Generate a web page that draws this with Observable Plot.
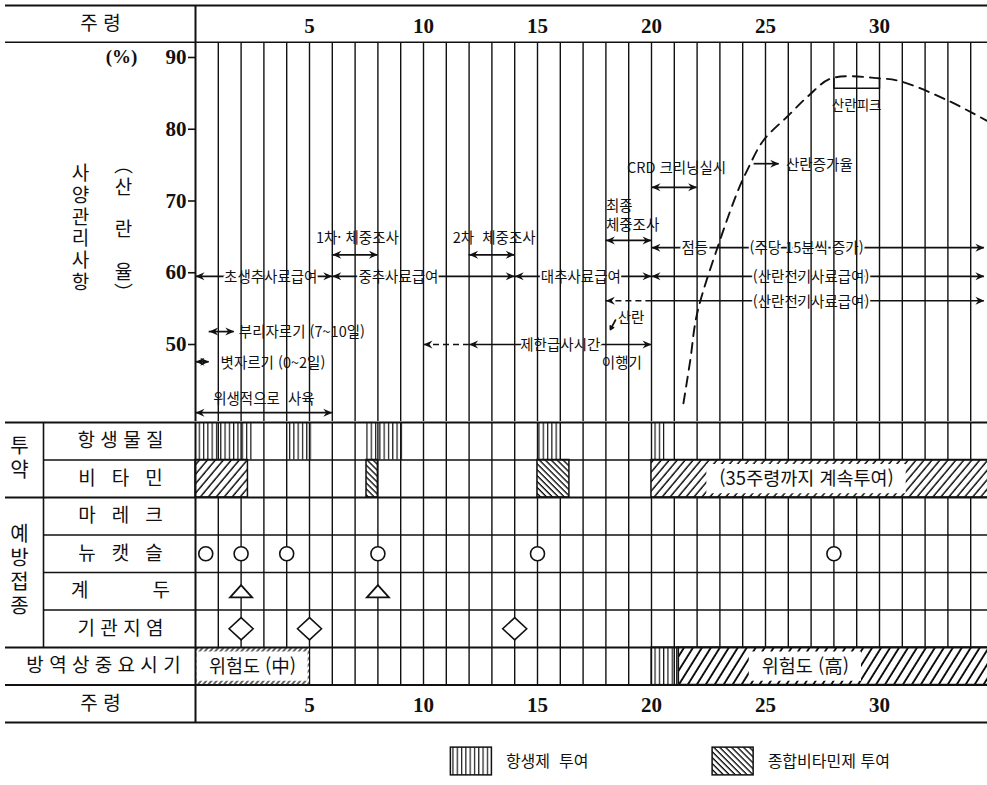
<!DOCTYPE html>
<html lang="ko">
<head>
<meta charset="utf-8">
<title>사양관리 일정표</title>
<script src="https://cdn.jsdelivr.net/npm/d3@7"></script>
<script src="https://cdn.jsdelivr.net/npm/@observablehq/plot@0.6"></script>
<style>
  html, body { margin: 0; padding: 0; background: #fff; }
  #chart { width: 987px; }
  #chart svg { display: block; }
</style>
</head>
<body>
<svg width="0" height="0" style="position:absolute" aria-hidden="true">
  <defs>
    <pattern id="pat-vertical" patternUnits="userSpaceOnUse" width="4.3" height="8">
      <line x1="1.5" y1="0" x2="1.5" y2="8" stroke="#000" stroke-width="1.1"/>
    </pattern>
    <pattern id="pat-fwd" patternUnits="userSpaceOnUse" width="6.1" height="10" patternTransform="rotate(40)">
      <rect width="6.1" height="10" fill="#fff"/>
      <line x1="1" y1="0" x2="1" y2="10" stroke="#000" stroke-width="1.4"/>
    </pattern>
    <pattern id="pat-bold" patternUnits="userSpaceOnUse" width="7.6" height="10" patternTransform="rotate(32)">
      <rect width="7.6" height="10" fill="#fff"/>
      <line x1="1" y1="0" x2="1" y2="10" stroke="#000" stroke-width="1.8"/>
    </pattern>
    <pattern id="pat-back" patternUnits="userSpaceOnUse" width="4.2" height="10" patternTransform="rotate(-45)">
      <rect width="4.2" height="10" fill="#fff"/>
      <line x1="1" y1="0" x2="1" y2="10" stroke="#000" stroke-width="1.3"/>
    </pattern>
    <pattern id="pat-edge" patternUnits="userSpaceOnUse" width="4" height="10" patternTransform="rotate(40)">
      <rect width="4" height="10" fill="#fff"/>
      <line x1="1" y1="0" x2="1" y2="10" stroke="#000" stroke-width="1.2"/>
    </pattern>
  </defs>
</svg>
<div id="chart"></div>
<script>
// ================= DATA =================
const weekTicks = [5, 10, 15, 20, 25, 30];
const rateTicks = [50, 60, 70, 80, 90];

// 산란율 (dashed curve)
const rateWeeks  = [21.4, 21.7, 22.0, 23.0, 23.8, 24.2, 24.9, 26.0, 26.9, 27.9, 30, 30.9, 33, 34.7];
const rateValues = [41.8, 47.8, 54.3, 64.5, 71.5, 74.3, 78.4, 81.9, 84.7, 87.1, 87.1, 86.7, 84.0, 81.2];
const layingPeak = {from: 28, to: 30, top: 87.1, base: 85.7, label: "산란피크", labelLevel: 83.3};

// 사양관리사항: arrow shafts (weeks, level in %)
const planLines = [
  {from: 0, to: 34.6, level: 59.5},
  {from: 6, to: 8, level: 62.5},
  {from: 12, to: 14, level: 62.5},
  {from: 18, to: 20, level: 64.5},
  {from: 20, to: 34.6, level: 63.5},
  {from: 18, to: 20, level: 56.1, dashed: true},
  {from: 20, to: 34.6, level: 56.1},
  {from: 10, to: 12, level: 50, dashed: true},
  {from: 12, to: 20, level: 50},
  {from: 0.6, to: 1.7, level: 51.8},
  {from: 0, to: 0.6, level: 47.6},
  {from: 0, to: 6, level: 40.5},
  {from: 20, to: 22, level: 71.9},
  {from: 24.5, to: 25.6, level: 75.2}
];
// arrow heads [week, level]
const headsLeft = [[0, 59.5], [6, 59.5], [14, 59.5], [20, 59.5], [6, 62.5], [12, 62.5], [18, 64.5],
  [20, 63.5], [18, 56.1], [10, 50], [12, 50], [0.6, 51.8], [0, 47.6], [0, 40.5], [20, 71.9]];
const headsRight = [[6, 59.5], [14, 59.5], [20, 59.5], [34.6, 59.5], [8, 62.5], [14, 62.5], [20, 64.5],
  [34.6, 63.5], [34.6, 56.1], [20, 50], [1.7, 51.8], [0.6, 47.6], [6, 40.5], [22, 71.9], [25.6, 75.2]];
const planLabels = [
  {text: "초생추사료급여", at: 3.3, level: 59.5, anchor: "middle"},
  {text: "중추사료급여", at: 8.9, level: 59.5, anchor: "middle"},
  {text: "대추사료급여", at: 16.9, level: 59.5, anchor: "middle"},
  {text: "(산란전기사료급여)", at: 27, level: 59.5, anchor: "middle"},
  {text: "1차· 체중조사", at: 7.1, level: 64.9, anchor: "middle"},
  {text: "2차  체중조사", at: 13.1, level: 64.9, anchor: "middle"},
  {text: "최종\n체중조사", at: 18, level: 68.1, anchor: "start"},
  {text: "점등", at: 21.9, level: 63.5, anchor: "middle"},
  {text: "(주당 15분씩 증가)", at: 26.8, level: 63.5, anchor: "middle"},
  {text: "(산란전기사료급여)", at: 27, level: 56.1, anchor: "middle"},
  {text: "산란", at: 19.1, level: 53.8, anchor: "middle"},
  {text: "제한급사시간", at: 16.0, level: 50, anchor: "middle"},
  {text: "이행기", at: 18.7, level: 47.5, anchor: "middle"},
  {text: "부리자르기 (7~10일)", at: 1.9, level: 51.8, anchor: "start"},
  {text: "볏자르기 (0~2일)", at: 1.1, level: 47.6, anchor: "start"},
  {text: "위생적으로  사육", at: 3.0, level: 42.5, anchor: "middle"},
  {text: "CRD 크리닝실시", at: 21.1, level: 74.7, anchor: "middle"},
  {text: "산란증가율", at: 25.9, level: 75.2, anchor: "start"}
];
const layingCue = [{fromW: 18.42, fromV: 53.4, toW: 18.2, toV: 52.1}];

// table rows
const rowNames = ["항생물질", "비타민", "마레크", "뉴캣슬", "계두", "기관지염", "방역상중요시기"];
const rowGroups = [
  {name: "투약", rows: ["항생물질", "비타민"]},
  {name: "예방접종", rows: ["마레크", "뉴캣슬", "계두", "기관지염"]}
];
const antibioticCourses = [[0, 2.5], [4, 5.1], [7.5, 9.1], [15, 16], [20, 20.6]];
const vitaminCourses = [
  {from: 0, to: 2.3, kind: "fwd"},
  {from: 7.5, to: 8, kind: "back"},
  {from: 15, to: 16.4, kind: "back"},
  {from: 20, to: 35, kind: "fwd", note: "(35주령까지 계속투여)", noteAt: 26.8}
];
const newcastleWeeks = [0.45, 2, 4, 8, 15, 28];
const fowlpoxWeeks = [2, 8];
const bronchitisWeeks = [2, 5, 14];
const riskPeriods = [
  {from: 0, to: 5, kind: "edge", note: "위험도 (中)", noteAt: 2.5},
  {from: 20, to: 21.2, kind: "vertical"},
  {from: 21.2, to: 35, kind: "bold", note: "위험도 (高)", noteAt: 26.75}
];
const legendItems = [
  {label: "항생제\u00a0 투여", kind: "vertical"},
  {label: "종합비타민제 투여", kind: "back"}
];

// ================= LAYOUT / STYLE =================
const W = 987;
const X_DOMAIN = [-195 / 22.8, (W - 195) / 22.8];   // week 0 sits on the table's left border
const PXW = W / (X_DOMAIN[1] - X_DOMAIN[0]);          // pixels per week
const LEFT_W = -190 / 22.8;                            // rules start 5px from page edge
const GROUP_W = -152 / 22.8;                           // 투약 / 예방접종 divider
const FONT = "'Noto Sans CJK KR', 'Noto Sans', sans-serif";
const SERIF = "'Liberation Serif', 'DejaVu Serif', serif";
const NB = "\u00a0";
const INK = "#111";
const patterns = {vertical: "url(#pat-vertical)", fwd: "url(#pat-fwd)", bold: "url(#pat-bold)",
                  back: "url(#pat-back)", edge: "url(#pat-edge)"};
const baseStyle = {fontFamily: FONT, fontSize: "14.5px", background: "white", color: INK};

const headRight = {draw(ctx) { ctx.moveTo(0, 0); ctx.lineTo(-9, -4); ctx.lineTo(-6, 0); ctx.lineTo(-9, 4); ctx.closePath(); }};
const headLeft  = {draw(ctx) { ctx.moveTo(0, 0); ctx.lineTo(9, -4); ctx.lineTo(6, 0); ctx.lineTo(9, 4); ctx.closePath(); }};
const flatTriangle = {draw(ctx, size) { const s = Math.sqrt(size / Math.PI);
  ctx.moveTo(0, -0.55 * s); ctx.lineTo(s, 0.55 * s); ctx.lineTo(-s, 0.55 * s); ctx.closePath(); }};
const squareDiamond = {draw(ctx, size) { const s = Math.sqrt(size / Math.PI);
  ctx.moveTo(0, -0.92 * s); ctx.lineTo(s, 0); ctx.lineTo(0, 0.92 * s); ctx.lineTo(-s, 0); ctx.closePath(); }};

const measureCtx = document.createElement("canvas").getContext("2d");
function textWidth(t, size) { measureCtx.font = `${size}px ${FONT}`; return measureCtx.measureText(t).width; }

// ================= HEADER (주령) =================
const header = Plot.plot({
  width: W, height: 43, margin: 0, style: baseStyle,
  x: {domain: X_DOMAIN, axis: null},
  y: {domain: [0, 1], range: [42, 5], axis: null},
  marks: [
    Plot.ruleY([0, 1], {x1: LEFT_W, x2: X_DOMAIN[1], stroke: INK, strokeWidth: 2}),
    Plot.ruleX([0], {y1: 0, y2: 1, stroke: INK, strokeWidth: 2}),
    Plot.text(weekTicks, {x: d => d, y: () => 0.5, dy: 2, text: d => String(d), fontFamily: SERIF, fontWeight: "bold", fontSize: 21}),
    Plot.text(["주 령"], {frameAnchor: "left", dx: 100, y: () => 0.5, text: d => d, textAnchor: "middle", fontSize: 19})
  ]
});

// ================= 사양관리사항 / 산란율 =================
const curve = rateWeeks.map((w, i) => ({week: w, rate: rateValues[i]}));
const bracket = [
  {w: layingPeak.from, v: layingPeak.top}, {w: layingPeak.from, v: layingPeak.base},
  {w: layingPeak.to, v: layingPeak.base}, {w: layingPeak.to, v: layingPeak.top}
];
const labelOpts = {x: "at", y: "level", text: "text", fill: INK, stroke: "white", strokeWidth: 4,
  strokeLinejoin: "round", paintOrder: "stroke", fontSize: 14.5, lineHeight: 1.25};

const chart = Plot.plot({
  width: W, height: 378, margin: 0, style: baseStyle,
  x: {domain: X_DOMAIN, axis: null},
  y: {domain: [39.27, 91.95], axis: null},
  marks: [
    Plot.line(curve, {x: "week", y: "rate", curve: "catmull-rom", stroke: INK, strokeWidth: 1.9, strokeDasharray: "10,7"}),
    Plot.line(bracket, {x: "w", y: "v", stroke: INK, strokeWidth: 1.5}),
    Plot.text([layingPeak], {x: d => (d.from + d.to) / 2, y: "labelLevel", text: "label", fontSize: 13.5, fill: INK,
      stroke: "white", strokeWidth: 3, paintOrder: "stroke"}),
    Plot.ruleY(planLines.filter(d => !d.dashed), {y: "level", x1: "from", x2: "to", stroke: INK, strokeWidth: 1.7}),
    Plot.ruleY(planLines.filter(d => d.dashed), {y: "level", x1: "from", x2: "to", stroke: INK, strokeWidth: 1.7, strokeDasharray: "6,4"}),
    Plot.text(planLabels.filter(d => d.anchor === "middle"), {...labelOpts, textAnchor: "middle"}),
    Plot.text(planLabels.filter(d => d.anchor === "start"), {...labelOpts, textAnchor: "start"}),
    Plot.ruleX(d3.range(1, 35), {stroke: INK, strokeWidth: 1.4}),
    Plot.ruleX([0], {stroke: INK, strokeWidth: 2}),
    Plot.dot(headsLeft, {x: d => d[0], y: d => d[1], symbol: headLeft, r: 1, fill: INK}),
    Plot.dot(headsRight, {x: d => d[0], y: d => d[1], symbol: headRight, r: 1, fill: INK}),
    Plot.arrow(layingCue, {x1: "fromW", y1: "fromV", x2: "toW", y2: "toV", headLength: 5, stroke: INK, strokeWidth: 1.8}),
    Plot.ruleY(rateTicks, {x1: -7 / PXW, x2: 0, stroke: INK, strokeWidth: 1.6}),
    Plot.text(rateTicks, {x: () => 0, y: d => d, dx: -9, textAnchor: "end", text: d => String(d),
      fontFamily: SERIF, fontWeight: "bold", fontSize: 21}),
    Plot.text(["(%)"], {frameAnchor: "top-left", dx: 121, dy: 13, lineAnchor: "middle", textAnchor: "middle",
      text: d => d, fontFamily: SERIF, fontWeight: "bold", fontSize: 19}),
    Plot.text(["사\n양\n관\n리\n사\n항"], {frameAnchor: "left", dx: 80, dy: -5, textAnchor: "middle",
      text: d => d, fontSize: 19, lineHeight: 1.15}),
    Plot.text(["︵\n산\n\n란\n\n율\n︶"], {frameAnchor: "left", dx: 123, dy: -3, textAnchor: "middle",
      text: d => d, fontSize: 19, lineHeight: 1.12})
  ]
});

// ================= TABLE (투약 / 예방접종 / 방역) =================
const ROW_PX = 37.5;
const TABLE_H = 364;
const row = name => rowNames.indexOf(name);
const groupSpans = rowGroups.map(g => ({name: g.name, first: row(g.rows[0]), last: row(g.rows[g.rows.length - 1])}));
const grouped = new Set(rowGroups.flatMap(g => g.rows));
const boundaries = d3.range(0, rowNames.length + 2);      // table rows + bottom 주령 row
const innerBoundary = b => groupSpans.some(g => b > g.first && b <= g.last);
const weekRow = rowNames.length;                         // bottom 주령 row index
const spaced = n => n.length === 2 ? n[0] + NB.repeat(12) + n[1]
  : n.length === 3 ? [...n].join(NB.repeat(3)) : [...n].join(" ");

const NOTE_SIZE = 18.5;
const notes = [
  ...vitaminCourses.filter(d => d.note).map(d => ({...d, row: row("비타민")})),
  ...riskPeriods.filter(d => d.note).map(d => ({...d, row: row("방역상중요시기")}))
].map(d => {
  if (d.kind === "edge") return {...d, x1: d.from + 0.06, x2: d.to - 0.06};
  const half = (textWidth(d.note, NOTE_SIZE) / 2 + 13) / PXW;
  return {...d, x1: d.noteAt - half, x2: d.noteAt + half};
});

const LEGEND_X = [11.2, 22.68], LEGEND_Y = [8.67, 9.41], LEGEND_BOX = 1.8;
const legend = legendItems.map((d, i) => ({...d, x1: LEGEND_X[i], x2: LEGEND_X[i] + LEGEND_BOX}));

const rowRect = (data, name, kind, extra = {}) => Plot.rect(data.filter(d => d.kind === kind), {
  x1: "from", x2: "to", y1: () => row(name), y2: () => row(name) + 1, fill: patterns[kind], ...extra});

const table = Plot.plot({
  width: W, height: TABLE_H, margin: 0, style: baseStyle,
  x: {domain: X_DOMAIN, axis: null},
  y: {domain: [0, (TABLE_H - 1) / ROW_PX], range: [1, TABLE_H], axis: null},
  marks: [
    Plot.rect(antibioticCourses, {x1: d => d[0], x2: d => d[1], y1: () => row("항생물질"), y2: () => row("항생물질") + 1, fill: patterns.vertical}),
    Plot.ruleX(d3.range(1, 35), {y1: 0, y2: weekRow, stroke: INK, strokeWidth: 1.4}),
    rowRect(vitaminCourses, "비타민", "fwd", {stroke: INK, strokeWidth: 1.5}),
    rowRect(vitaminCourses, "비타민", "back", {stroke: INK, strokeWidth: 1.5}),
    rowRect(riskPeriods, "방역상중요시기", "edge"),
    rowRect(riskPeriods, "방역상중요시기", "vertical", {stroke: INK, strokeWidth: 1.2}),
    rowRect(riskPeriods, "방역상중요시기", "bold", {stroke: INK, strokeWidth: 1.5}),
    Plot.rect(notes, {x1: "x1", x2: "x2", y1: d => d.row + 0.12, y2: d => d.row + 0.9, fill: "white"}),
    Plot.text(notes, {x: "noteAt", y: d => d.row + 0.52, text: "note", fontSize: NOTE_SIZE, fill: INK}),
    Plot.ruleY(boundaries.filter(b => !innerBoundary(b)), {y: d => d, x1: LEFT_W, x2: X_DOMAIN[1], stroke: INK, strokeWidth: 1.9}),
    Plot.ruleY(boundaries.filter(innerBoundary), {y: d => d, x1: GROUP_W, x2: X_DOMAIN[1], stroke: INK, strokeWidth: 1.6}),
    Plot.ruleX([GROUP_W], {y1: groupSpans[0].first, y2: groupSpans[groupSpans.length - 1].last + 1, stroke: INK, strokeWidth: 1.6}),
    Plot.ruleX([0], {y1: 0, y2: weekRow + 1, stroke: INK, strokeWidth: 2}),
    Plot.dot(newcastleWeeks, {x: d => d, y: () => row("뉴캣슬") + 0.5, r: 7, fill: "white", stroke: INK, strokeWidth: 1.6}),
    Plot.dot(fowlpoxWeeks, {x: d => d, y: () => row("계두") + 0.5, r: 11, symbol: flatTriangle, fill: "white", stroke: INK, strokeWidth: 1.8}),
    Plot.dot(bronchitisWeeks, {x: d => d, y: () => row("기관지염") + 0.5, r: 12, symbol: squareDiamond, fill: "white", stroke: INK, strokeWidth: 1.6}),
    Plot.text(rowNames.filter(n => grouped.has(n)), {frameAnchor: "left", dx: 120, y: d => row(d) + 0.5, text: spaced,
      textAnchor: "middle", fontSize: 19, fill: INK}),
    Plot.text(rowNames.filter(n => !grouped.has(n)), {frameAnchor: "left", dx: 103, y: d => row(d) + 0.5, text: spaced,
      textAnchor: "middle", fontSize: 19, fill: INK}),
    Plot.text(groupSpans, {frameAnchor: "left", dx: 19, y: d => (d.first + d.last + 1) / 2, dy: -3,
      text: d => [...d.name].join("\n"), textAnchor: "middle", lineHeight: 1.2, fontSize: 20, fill: INK}),
    Plot.text(weekTicks, {x: d => d, y: () => weekRow + 0.5, dy: 2, text: d => String(d), fontFamily: SERIF, fontWeight: "bold", fontSize: 21}),
    Plot.text(["주 령"], {frameAnchor: "left", dx: 100, y: () => weekRow + 0.5, text: d => d, textAnchor: "middle", fontSize: 19}),
    Plot.rect(legend, {x1: "x1", x2: "x2", y1: () => LEGEND_Y[0], y2: () => LEGEND_Y[1], fill: d => patterns[d.kind], stroke: INK, strokeWidth: 1.5}),
    Plot.text(legend, {x: "x2", y: () => (LEGEND_Y[0] + LEGEND_Y[1]) / 2, dx: 14, text: "label", textAnchor: "start", fontSize: 16, fill: INK})
  ]
});

document.getElementById("chart").append(header, chart, table);
</script>
</body>
</html>
